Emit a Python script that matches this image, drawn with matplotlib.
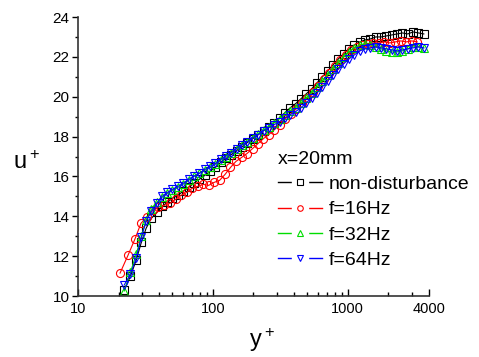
import matplotlib.pyplot as plt
import numpy as np
from matplotlib.lines import Line2D
from matplotlib.legend_handler import HandlerTuple
from matplotlib.ticker import FixedLocator, NullFormatter

# y+ positions (shared by non-disturbance, 32Hz, 64Hz)
yplus = [22, 24.5, 27, 29.5, 32, 35, 38.5, 42, 46, 50, 55, 60, 66, 72, 79, 87, 95,
         104, 114, 125, 137, 150, 165, 180, 198, 217, 238, 260, 285, 312, 342, 375,
         410, 450, 493, 540, 592, 648, 710, 778, 852, 933, 1022, 1120, 1227, 1344,
         1472, 1612, 1766, 1934, 2118, 2320, 2541, 2783, 3048, 3340, 3660]

# y+ positions for f=16Hz
yplus_16 = [20.5, 23.5, 26.4, 29.3, 32.4, 35.9, 39.5, 43.5, 48, 53, 58, 64, 70, 77, 85,
            93, 102, 112, 123, 135, 148, 163, 179, 197, 216, 237, 260, 286, 314, 345,
            379, 416, 457, 502, 551, 605, 665, 730, 802, 881, 968, 1063, 1167, 1282,
            1408, 1546, 1698, 1865, 2048, 2249, 2470, 2713, 2979, 3272]

u_non = [10.3, 11.0, 11.8, 12.7, 13.4, 13.9, 14.2, 14.5, 14.7, 14.9, 15.05, 15.25, 15.45,
         15.65, 15.85, 16.05, 16.25, 16.45, 16.7, 16.9, 17.1, 17.3, 17.5, 17.7, 17.9,
         18.1, 18.3, 18.5, 18.7, 18.95, 19.2, 19.45, 19.65, 19.9, 20.15, 20.4, 20.7,
         21.0, 21.3, 21.6, 21.9, 22.15, 22.4, 22.6, 22.75, 22.85, 22.9, 23.0, 23.0,
         23.05, 23.1, 23.15, 23.2, 23.15, 23.25, 23.2, 23.15]

u_16 = [11.15, 12.05, 12.85, 13.65, 13.95, 14.3, 14.45, 14.55, 14.65, 14.85, 15.05, 15.2,
        15.4, 15.5, 15.6, 15.55, 15.7, 15.8, 16.1, 16.45, 16.75, 16.95, 17.15, 17.4,
        17.65, 17.9, 18.1, 18.35, 18.6, 18.9, 19.15, 19.4, 19.7, 19.95, 20.25, 20.55,
        20.9, 21.2, 21.55, 21.85, 22.1, 22.35, 22.5, 22.6, 22.65, 22.7, 22.7, 22.75,
        22.7, 22.75, 22.8, 22.75, 22.8, 22.75]

u_32 = [10.25, 11.2, 12.1, 13.0, 13.8, 14.35, 14.7, 14.95, 15.15, 15.3, 15.45, 15.6,
        15.8, 16.0, 16.15, 16.3, 16.45, 16.6, 16.8, 17.0, 17.2, 17.4, 17.6, 17.75,
        17.95, 18.15, 18.35, 18.5, 18.7, 18.9, 19.1, 19.3, 19.45, 19.7, 19.95, 20.2,
        20.5, 20.8, 21.1, 21.4, 21.7, 22.0, 22.25, 22.45, 22.6, 22.65, 22.6, 22.5,
        22.4, 22.3, 22.25, 22.25, 22.3, 22.4, 22.5, 22.5, 22.45]

u_64 = [10.55, 11.1, 11.9, 12.95, 13.75, 14.25, 14.65, 15.0, 15.2, 15.35, 15.5, 15.65,
        15.85, 16.0, 16.15, 16.35, 16.5, 16.65, 16.85, 17.05, 17.2, 17.4, 17.6, 17.75,
        17.95, 18.1, 18.3, 18.45, 18.6, 18.75, 18.95, 19.1, 19.25, 19.45, 19.7, 19.95,
        20.2, 20.5, 20.8, 21.1, 21.4, 21.65, 21.9, 22.1, 22.3, 22.4, 22.45, 22.5,
        22.45, 22.4, 22.35, 22.3, 22.35, 22.4, 22.45, 22.5, 22.45]

labels = ['non-disturbance', 'f=16Hz', 'f=32Hz', 'f=64Hz']
colors = ['black', 'red', '#00dd00', 'blue']
markers = ['s', 'o', '^', 'v']

plt.rcParams['font.family'] = ['Liberation Sans', 'DejaVu Sans']
plt.rcParams['mathtext.default'] = 'regular'

fig = plt.figure(figsize=(4.79, 3.57), dpi=100)
ax = fig.add_axes([78 / 479, 1 - 296 / 357, (429 - 78) / 479, (296 - 17) / 357])

series = [(yplus, u_non), (yplus_16, u_16), (yplus, u_32), (yplus, u_64)]
for (x, u), c, m in zip(series, colors, markers):
    ax.plot(x, u, color=c, lw=0.8, marker=m, ms=5.8, mfc='none', mec=c, mew=0.8)

ax.set_xscale('log')
ax.set_xlim(10, 4000)
ax.set_ylim(10, 24)

# ticks
ax.set_xticks([10, 100, 1000, 4000])
ax.set_xticklabels(['10', '100', '1000', '4000'])
minor = [20, 30, 40, 50, 60, 70, 80, 90, 200, 300, 400, 500, 600, 700, 800, 900, 2000, 3000]
ax.xaxis.set_minor_locator(FixedLocator(minor))
ax.xaxis.set_minor_formatter(NullFormatter())
ax.set_yticks(np.arange(10, 25, 2))
ax.yaxis.set_minor_locator(FixedLocator(np.arange(11, 24, 2)))
ax.tick_params(axis='x', which='major', direction='in', length=5, width=1, labelsize=10.5, pad=4)
ax.tick_params(axis='x', which='minor', direction='in', length=3, width=1)
ax.tick_params(axis='y', which='major', direction='out', length=4, width=1, labelsize=11, pad=2)
ax.tick_params(axis='y', which='minor', direction='out', length=2.5, width=1)

for s in ['top', 'right']:
    ax.spines[s].set_visible(False)
for s in ['left', 'bottom']:
    ax.spines[s].set_linewidth(1.2)
    ax.spines[s].set_color('#333333')

# axis labels
fig.text(27 / 479, 1 - 163 / 357, 'u$^+$', fontsize=17, ha='center', va='center')
fig.text(262 / 479, 1 - 340 / 357, 'y$^+$', fontsize=17, ha='center', va='center')

# legend: line, white patch for the gap, small open marker
handles = []
for c, m in zip(colors, markers):
    handles.append((Line2D([], [], color=c, lw=1),
                    Line2D([], [], ls='none', marker='s', ms=11, mfc='white', mec='white'),
                    Line2D([], [], ls='none', marker=m, ms=4, mfc='none', mec=c, mew=0.8)))
leg = ax.legend(handles, labels, title='x=20mm', loc='upper left',
                bbox_to_anchor=(268 / 479, 1 - 141 / 357), bbox_transform=fig.transFigure,
                frameon=False, fontsize=14, title_fontsize=14, alignment='left',
                handlelength=2.3, handletextpad=0.3, labelspacing=0.4, borderpad=0,
                handler_map={tuple: HandlerTuple(ndivide=1, pad=0)})

fig.savefig('out.png', dpi=100)
